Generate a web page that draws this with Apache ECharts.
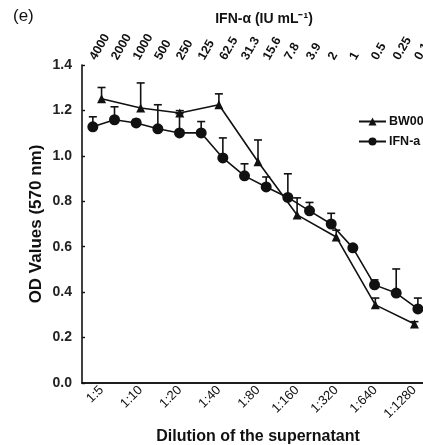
<!DOCTYPE html>
<html>
<head>
<meta charset="utf-8">
<script src="https://cdn.jsdelivr.net/npm/echarts@6/dist/echarts.min.js"></script>
<style>
html,body{margin:0;padding:0;background:#fff;}
#chart{width:423px;height:445px;}
</style>
</head>
<body>
<div id="chart"></div>
<script>
// ---- data ----
var dilutions = ['1:5','1:10','1:20','1:40','1:80','1:160','1:320','1:640','1:1280'];
var concentrations = ['4000','2000','1000','500','250','125','62.5','31.3','15.6','7.8','3.9','2','1','0.5','0.25','0.125'];
var bwValues = [1.251,1.211,1.189,1.225,0.974,0.740,0.643,0.344,0.260];
var bwErrors = [0.050,0.110,0.010,0.048,0.096,0.075,0.030,0.030,0.010];
var ifnValues = [1.128,1.159,1.145,1.119,1.101,1.101,0.991,0.912,0.863,0.817,0.758,0.700,0.595,0.432,0.396,0.326];
var ifnErrors = [0.044,0.057,0.015,0.106,0.085,0.050,0.088,0.053,0.044,0.104,0.037,0.047,0.010,0.022,0.106,0.048];
var yTicks = [0,0.2,0.4,0.6,0.8,1.0,1.2,1.4];

var FONT = '"Liberation Sans", Arial, Helvetica, sans-serif';
var INK = '#111';

function errData(vals, errs){
  return vals.map(function(v,i){ return [i, v, v + errs[i]]; });
}
function errRender(params, api){
  var x = api.value(0), y = api.value(1), top = api.value(2);
  var p0 = api.coord([x, y]);
  var p1 = api.coord([x, top]);
  var w = 4;
  return {type:'group', children:[
    {type:'line', shape:{x1:p0[0],y1:p0[1],x2:p1[0],y2:p1[1]}, style:{stroke:INK,lineWidth:1.6}},
    {type:'line', shape:{x1:p1[0]-w,y1:p1[1],x2:p1[0]+w,y2:p1[1]}, style:{stroke:INK,lineWidth:1.6}}
  ]};
}

var chart = echarts.init(document.getElementById('chart'), null, {renderer:'canvas'});
var option = {
  backgroundColor:'#fff',
  animation:false,
  textStyle:{fontFamily:FONT},
  graphic:[
    {type:'text', left:13, top:8, style:{text:'(e)', font:'17px '+FONT, fill:INK}},
    {type:'text', x:264, y:19, style:{text:'IFN-α (IU mL⁻¹)', font:'bold 14px '+FONT, fill:INK, textAlign:'center', textVerticalAlign:'middle'}}
  ],
  legend:{
    left:353, top:110, orient:'vertical', itemWidth:27, itemHeight:10, itemGap:7,
    textStyle:{fontFamily:FONT, fontWeight:'bold', fontSize:12.5, color:INK, padding:[0,0,0,-2]},
    data:['BW001','IFN-a']
  },
  grid:[
    {left:82, top:65, width:352, height:318, outerBoundsMode:'none', containLabel:false},
    {left:82, top:65, width:346.7, height:318, outerBoundsMode:'none', containLabel:false}
  ],
  xAxis:[
    {type:'category', gridIndex:0, position:'bottom', data:dilutions, boundaryGap:true,
     axisLine:{lineStyle:{color:INK,width:1.6}},
     axisTick:{inside:true,length:4,lineStyle:{color:INK,width:1.4}},
     axisLabel:{rotate:45, margin:5, fontSize:13, color:INK, fontFamily:FONT, interval:0},
     name:'Dilution of the supernatant', nameLocation:'middle', nameGap:46, nameMoveOverlap:false,
     nameTextStyle:{fontSize:16, fontWeight:'bold', color:INK, fontFamily:FONT}
    },
    {type:'category', gridIndex:1, position:'top', data:concentrations, boundaryGap:true,
     axisLine:{lineStyle:{color:INK,width:1.6}},
     axisTick:{inside:true,length:4,lineStyle:{color:INK,width:1.4}},
     axisLabel:{rotate:60, margin:6, fontSize:12.5, fontWeight:'bold', color:INK, fontFamily:FONT, interval:0}
    }
  ],
  yAxis:[
    {type:'value', gridIndex:0, min:0, max:1.4, interval:0.2,
     axisLine:{show:true,lineStyle:{color:INK,width:1.6}},
     axisTick:{show:true,inside:true,length:3,lineStyle:{color:INK,width:1.4}},
     splitLine:{show:false},
     axisLabel:{margin:10, fontSize:14, fontWeight:'bold', color:'#222', fontFamily:FONT,
       formatter:function(v){ return v.toFixed(1); }},
     name:'OD Values (570 nm)', nameLocation:'middle', nameGap:37, nameMoveOverlap:false,
     nameTextStyle:{fontSize:17, fontWeight:'bold', color:INK, fontFamily:FONT}
    },
    {type:'value', gridIndex:1, min:0, max:1.4, interval:0.2, show:false}
  ],
  series:[
    {name:'BW001', type:'line', xAxisIndex:0, yAxisIndex:0, data:bwValues,
     symbol:'triangle', symbolSize:9, itemStyle:{color:INK}, lineStyle:{color:INK,width:1.6}, z:5},
    {name:'IFN-a', type:'line', xAxisIndex:1, yAxisIndex:1, data:ifnValues,
     symbol:'circle', symbolSize:11, itemStyle:{color:INK}, lineStyle:{color:INK,width:1.6}, z:5},
    {type:'custom', xAxisIndex:0, yAxisIndex:0, data:errData(bwValues,bwErrors), renderItem:errRender, z:3, silent:true},
    {type:'custom', xAxisIndex:1, yAxisIndex:1, data:errData(ifnValues,ifnErrors), renderItem:errRender, z:3, silent:true}
  ]
};
chart.setOption(option);
</script>
</body>
</html>
